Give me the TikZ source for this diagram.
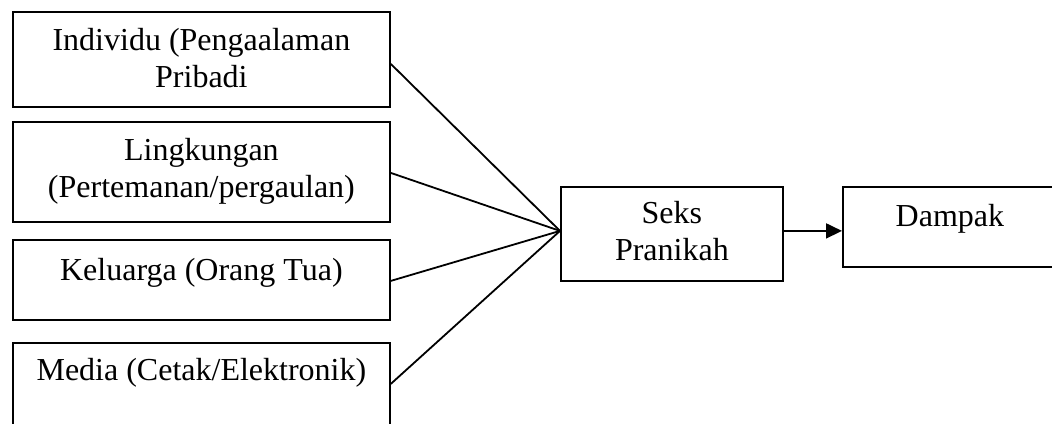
\documentclass[tikz,border=0pt]{standalone}
\usepackage{fontspec}
\setmainfont{Liberation Serif}
\usetikzlibrary{arrows.meta,calc}
\begin{document}
\begin{tikzpicture}[x=1pt,y=-1pt,
  box/.style={draw,line width=1.8pt,inner sep=0pt,anchor=north west},
  lbl/.style={font=\fontsize{32}{36.5}\selectfont,align=center,anchor=base,inner sep=0pt},
  link/.style={line width=1.8pt}]
\clip (0,0) rectangle (1052,423);
\node[box,minimum width=377pt,minimum height=95pt] (b1) at (12,11) {};
\node[box,minimum width=377pt,minimum height=100pt] (b2) at (12,121) {};
\node[box,minimum width=377pt,minimum height=80pt] (b3) at (12,239) {};
\node[box,minimum width=377pt,minimum height=82pt] (b4) at (12,342) {};
\node[box,minimum width=222pt,minimum height=94pt] (s) at (560,186) {};
\node[box,minimum width=214pt,minimum height=80pt] (d) at (842,186) {};
\node[lbl] (t1) at ($(b1.north)+(0,76)$) {Individu (Pengaalaman\\Pribadi};
\node[lbl] (t2) at ($(b2.north)+(0,76)$) {Lingkungan\\(Pertemanan/pergaulan)};
\node[lbl] (t3) at ($(b3.north)+(0,41)$) {Keluarga (Orang Tua)};
\node[lbl] (t4) at ($(b4.north)+(0,38)$) {Media (Cetak/Elektronik)};
\node[lbl] (ts) at ($(s.north)+(0,74)$) {Seks\\Pranikah};
\node[lbl] (td) at ($(d.north)+(0,40)$) {Dampak};
\coordinate (hub) at ($(s.west)+(0,-3)$);
\draw[link] ($(b1.east)+(0,4.5)$) -- (hub);
\draw[link] ($(b2.east)+(0,1)$) -- (hub);
\draw[link] ($(b3.east)+(0,1)$) -- (hub);
\draw[link] (b4.east) -- (hub);
\draw[link,-{Triangle[length=16pt,width=15pt]}] ($(s.east)+(0,-3)$) -- ($(d.west)+(0,4)$);
\end{tikzpicture}
\end{document}
